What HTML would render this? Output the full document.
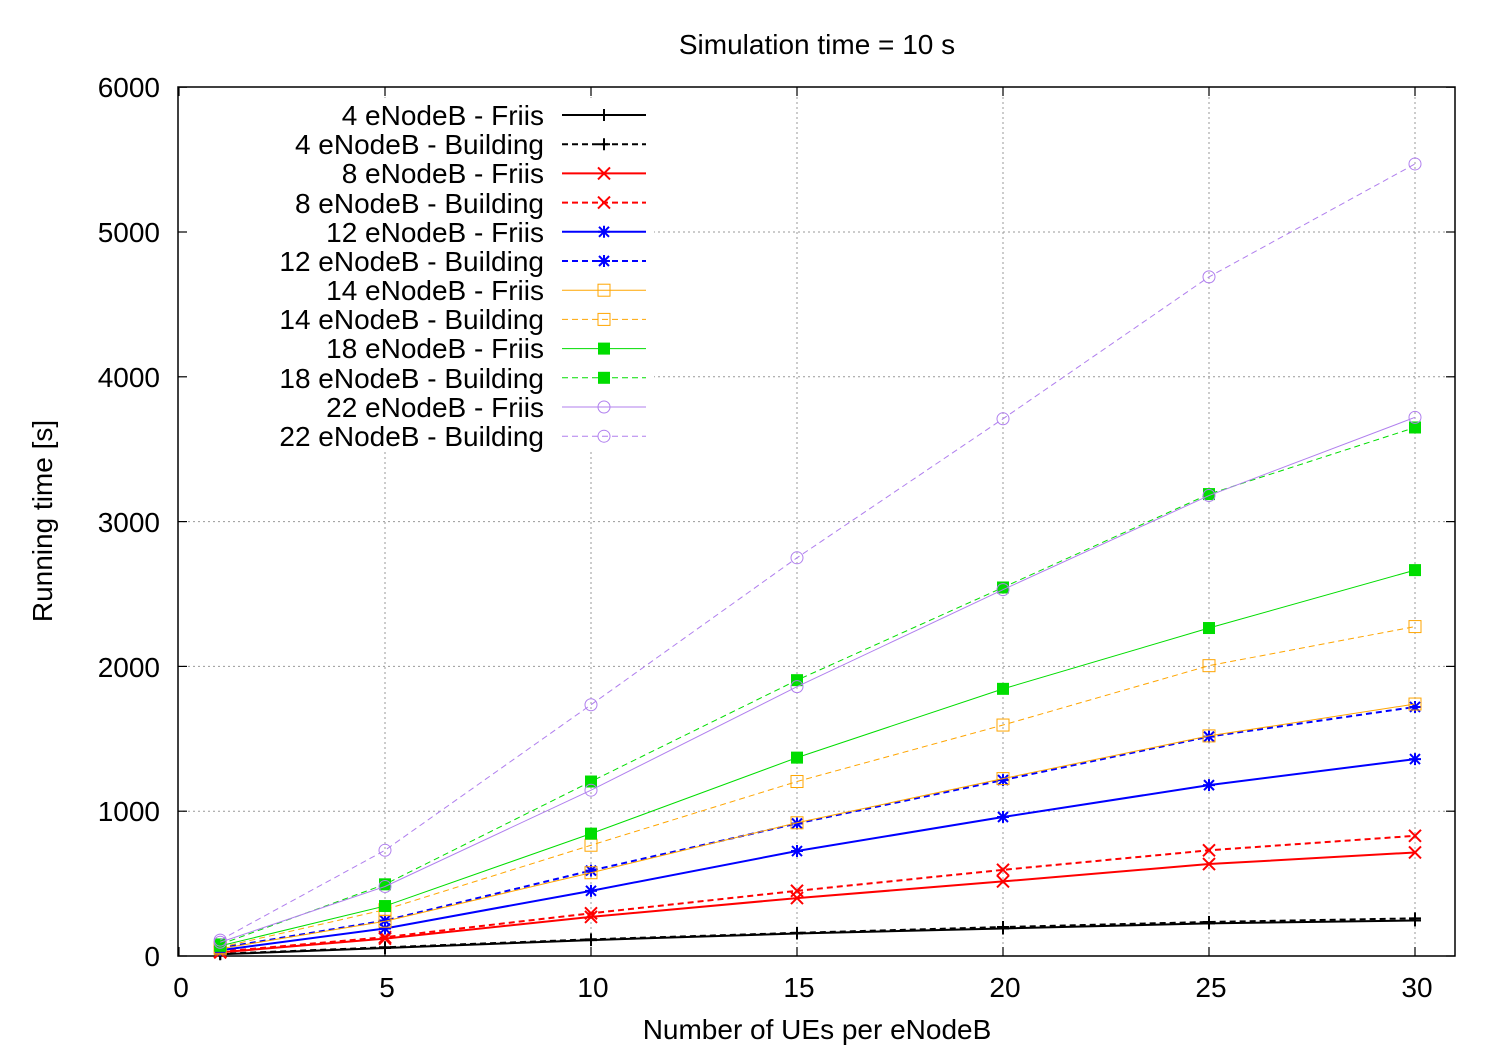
<!DOCTYPE html>
<html><head><meta charset="utf-8"><style>body{margin:0;background:#fff}svg{display:block}text{font-family:"Liberation Sans",sans-serif;font-size:28px;fill:#000}</style></head>
<body>
<svg id="s" width="1500" height="1050" xmlns="http://www.w3.org/2000/svg">
<rect width="1500" height="1050" fill="#fff"/>
<g id="grid" stroke="#999" stroke-width="1" stroke-dasharray="2,3"></g>
<rect x="182" y="98" width="472" height="352" fill="#fff"/>
<g id="ticks" stroke="#000" stroke-width="1.2"></g>
<rect x="178" y="87" width="1277" height="869" fill="none" stroke="#000" stroke-width="1.5"/>
<text x="817" y="54" text-anchor="middle">Simulation time = 10 s</text>
<text x="817" y="1039" text-anchor="middle">Number of UEs per eNodeB</text>
<text transform="translate(52,521) rotate(-90)" text-anchor="middle">Running time [s]</text>
<g text-anchor="end">
<text x="160" y="966">0</text><text x="160" y="821">1000</text><text x="160" y="677">2000</text><text x="160" y="532">3000</text><text x="160" y="387">4000</text><text x="160" y="242">5000</text><text x="160" y="97">6000</text>
</g>
<g text-anchor="middle">
<text x="181" y="997">0</text><text x="387" y="997">5</text><text x="593" y="997">10</text><text x="799" y="997">15</text><text x="1005" y="997">20</text><text x="1211" y="997">25</text><text x="1417" y="997">30</text>
</g>
<g text-anchor="end">
<text x="544" y="125">4 eNodeB - Friis</text>
<text x="544" y="154">4 eNodeB - Building</text>
<text x="544" y="183">8 eNodeB - Friis</text>
<text x="544" y="213">8 eNodeB - Building</text>
<text x="544" y="242">12 eNodeB - Friis</text>
<text x="544" y="271">12 eNodeB - Building</text>
<text x="544" y="300">14 eNodeB - Friis</text>
<text x="544" y="329">14 eNodeB - Building</text>
<text x="544" y="358">18 eNodeB - Friis</text>
<text x="544" y="388">18 eNodeB - Building</text>
<text x="544" y="417">22 eNodeB - Friis</text>
<text x="544" y="446">22 eNodeB - Building</text>
</g>
<g id="series"></g>
</svg>
<script>
var NS="http://www.w3.org/2000/svg";
function X(v){return 179+v*41.2}
function Y(v){return 956-v*0.1448}
function el(p,t,a){var e=document.createElementNS(NS,t);for(var k in a)e.setAttribute(k,a[k]);p.appendChild(e);return e}
var g=document.getElementById('grid'),tk=document.getElementById('ticks');
[5,10,15,20,25,30].forEach(function(v){el(g,'line',{x1:X(v),x2:X(v),y1:87,y2:956});});
[1000,2000,3000,4000,5000].forEach(function(v){el(g,'line',{x1:178,x2:1455,y1:Y(v),y2:Y(v)});});
[0,5,10,15,20,25,30].forEach(function(v){el(tk,'line',{x1:X(v),x2:X(v),y1:956,y2:947});el(tk,'line',{x1:X(v),x2:X(v),y1:87,y2:96});});
[0,1000,2000,3000,4000,5000,6000].forEach(function(v){el(tk,'line',{x1:178,x2:187,y1:Y(v),y2:Y(v)});el(tk,'line',{x1:1455,x2:1446,y1:Y(v),y2:Y(v)});});
var xs=[1,5,10,15,20,25,30];
var S=[
['#000','+',0,[12,55,110,155,190,225,245],2],
['#000','+',1,[15,60,115,160,200,235,260],2],
['#f00','x',0,[25,120,270,400,515,635,715],2],
['#f00','x',1,[30,130,295,450,595,730,830],2],
['#00f','*',0,[40,190,450,725,960,1180,1360],2],
['#00f','*',1,[55,245,590,915,1215,1515,1720],2],
['#ffa500','s',0,[50,240,575,920,1225,1520,1740],1],
['#ffa500','s',1,[60,320,765,1205,1595,2005,2275],1],
['#0d0','S',0,[70,345,845,1370,1845,2265,2665],1],
['#0d0','S',1,[80,495,1205,1905,2545,3190,3650],1],
['#b07fee','o',0,[95,480,1145,1860,2530,3180,3720],1],
['#b07fee','o',1,[110,730,1735,2750,3710,4690,5470],1]];
var sg=document.getElementById('series');
function mk(c,m,x,y,w){
 if(m=='+'){el(sg,'path',{d:'M'+(x-6)+' '+y+'h12M'+x+' '+(y-6)+'v12',stroke:c,'stroke-width':w,fill:'none'});}
 else if(m=='x'){el(sg,'path',{d:'M'+(x-6)+' '+(y-6)+'l12 12M'+(x-6)+' '+(y+6)+'l12 -12',stroke:c,'stroke-width':w,fill:'none'});}
 else if(m=='*'){el(sg,'path',{d:'M'+(x-6)+' '+y+'h12M'+x+' '+(y-6)+'v12M'+(x-5)+' '+(y-5)+'l10 10M'+(x-5)+' '+(y+5)+'l10 -10',stroke:c,'stroke-width':w,fill:'none'});}
 else if(m=='s'){el(sg,'rect',{x:x-6,y:y-6,width:12,height:12,stroke:c,'stroke-width':1,fill:'none'});}
 else if(m=='S'){el(sg,'rect',{x:x-6,y:y-6,width:12,height:12,fill:c});}
 else {el(sg,'circle',{cx:x,cy:y,r:6,stroke:c,'stroke-width':1,fill:'none'});}
}
S.forEach(function(s,i){
 var d=s[3].map(function(v,j){return (j?'L':'M')+X(xs[j])+' '+Y(v)}).join('');
 var a={d:d,stroke:s[0],'stroke-width':s[4],fill:'none'};if(s[2])a['stroke-dasharray']='6,4';
 el(sg,'path',a);
 s[3].forEach(function(v,j){mk(s[0],s[1],X(xs[j]),Y(v),s[4])});
 var ly=115+i*29.2;
 var b={d:'M562 '+ly+'H646',stroke:s[0],'stroke-width':s[4],fill:'none'};if(s[2])b['stroke-dasharray']='6,4';
 el(sg,'path',b);mk(s[0],s[1],604,ly,s[4]);
});
</script>
</body></html>
